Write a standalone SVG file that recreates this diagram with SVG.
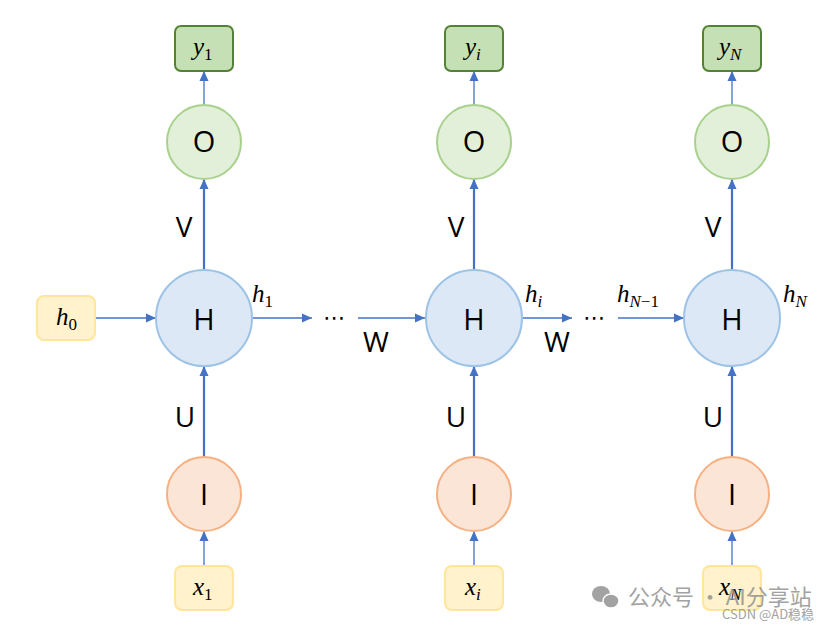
<svg xmlns="http://www.w3.org/2000/svg" width="832" height="630" viewBox="0 0 832 630">
<style>
.h{fill:#dce8f5;stroke:#9dc3e6;stroke-width:2}
.o{fill:#e2f0d9;stroke:#a9d18e;stroke-width:2}
.i{fill:#fbe5d6;stroke:#f4b183;stroke-width:2}
.yb{fill:#c5e0b4;stroke:#548235;stroke-width:2}
.xb{fill:#fff2cc;stroke:#ffe699;stroke-width:2}
.lbl{font-family:"Open Sans","Liberation Sans",Arial,sans-serif;font-size:29px;fill:#000;text-anchor:middle}
.wl{font-family:"Open Sans","Liberation Sans",Arial,sans-serif;font-size:28px;fill:#000;text-anchor:middle}
.m{font-family:"Liberation Serif","DejaVu Serif",serif;font-style:italic;font-size:25px;fill:#000}
.sub{font-size:17px}
.up{font-style:normal}
.thin{stroke:#4472c4;stroke-width:1.3;fill:none;marker-end:url(#a)}
.thick{stroke:#4472c4;stroke-width:2.2;fill:none;marker-end:url(#a)}
.dots{font-family:"DejaVu Sans",sans-serif;font-size:22px;fill:#000;text-anchor:middle}
.wm{font-family:"Noto Sans CJK SC","Liberation Sans",sans-serif;fill:#8c8c8c;opacity:0.8}
</style>
<defs>
<marker id="a" markerUnits="userSpaceOnUse" markerWidth="11" markerHeight="10" refX="10" refY="5" orient="auto">
<path d="M0,0.5 L10,5 L0,9.5 Z" fill="#4472c4"/>
</marker>
</defs>

<g id="connectors">
<line class="thin" x1="95" y1="318" x2="156" y2="318"/>
<line class="thin" x1="252" y1="318" x2="312" y2="318"/>
<line class="thin" x1="358" y1="318" x2="425" y2="318"/>
<line class="thin" x1="521" y1="318" x2="572" y2="318"/>
<line class="thin" x1="618" y1="318" x2="684" y2="318"/>

<line class="thin" x1="204" y1="566" x2="204" y2="531"/>
<line class="thick" x1="204" y1="457" x2="204" y2="366"/>
<line class="thick" x1="204" y1="270" x2="204" y2="179"/>
<line class="thin" x1="204" y1="105" x2="204" y2="71"/>

<line class="thin" x1="474" y1="566" x2="474" y2="531"/>
<line class="thick" x1="474" y1="457" x2="474" y2="366"/>
<line class="thick" x1="474" y1="270" x2="474" y2="179"/>
<line class="thin" x1="474" y1="105" x2="474" y2="71"/>

<line class="thin" x1="732" y1="566" x2="732" y2="531"/>
<line class="thick" x1="732" y1="457" x2="732" y2="366"/>
<line class="thick" x1="732" y1="270" x2="732" y2="179"/>
<line class="thin" x1="732" y1="105" x2="732" y2="71"/>

<text class="wl" x="184" y="237">V</text>
<text class="wl" x="185" y="427">U</text>
<text class="wl" x="456" y="237">V</text>
<text class="wl" x="456" y="427">U</text>
<text class="wl" x="713" y="237">V</text>
<text class="wl" x="713" y="427">U</text>
<text class="wl" x="376" y="352">W</text>
<text class="wl" x="557" y="352">W</text>
<text class="dots" x="334" y="325">⋯</text>
<text class="dots" x="594" y="325">⋯</text>
<text class="m" x="252" y="302">h<tspan class="sub up" dy="5">1</tspan></text>
<text class="m" x="525" y="302">h<tspan class="sub" dy="5">i</tspan></text>
<text class="m" x="617" y="302">h<tspan class="sub" dy="5">N</tspan><tspan class="sub up">−1</tspan></text>
<text class="m" x="783" y="302">h<tspan class="sub" dy="5">N</tspan></text>
</g>

<g id="h0"><rect class="xb" x="37" y="296" width="58" height="44" rx="7"/><text class="m" x="56" y="325">h<tspan class="sub up" dy="5">0</tspan></text></g>

<g id="H1"><circle class="h" cx="204" cy="318" r="48"/><text class="lbl" x="204" y="330">H</text></g>
<g id="O1"><circle class="o" cx="204" cy="142" r="37"/><text class="lbl" x="204" y="152">O</text></g>
<g id="I1"><circle class="i" cx="204" cy="494" r="37"/><text class="lbl" x="204" y="505">I</text></g>
<g id="y1"><rect class="yb" x="175" y="26" width="58" height="45" rx="6"/><text class="m" x="193" y="55">y<tspan class="sub up" dy="5">1</tspan></text></g>
<g id="x1"><rect class="xb" x="175" y="566" width="58" height="44" rx="7"/><text class="m" x="193" y="595">x<tspan class="sub up" dy="5">1</tspan></text></g>

<g id="H2"><circle class="h" cx="474" cy="318" r="48"/><text class="lbl" x="474" y="330">H</text></g>
<g id="O2"><circle class="o" cx="474" cy="142" r="37"/><text class="lbl" x="474" y="152">O</text></g>
<g id="I2"><circle class="i" cx="474" cy="494" r="37"/><text class="lbl" x="474" y="505">I</text></g>
<g id="yi"><rect class="yb" x="445" y="26" width="58" height="45" rx="6"/><text class="m" x="465" y="55">y<tspan class="sub" dy="5">i</tspan></text></g>
<g id="xi"><rect class="xb" x="445" y="566" width="58" height="44" rx="7"/><text class="m" x="465" y="595">x<tspan class="sub" dy="5">i</tspan></text></g>

<g id="H3"><circle class="h" cx="732" cy="318" r="48"/><text class="lbl" x="732" y="330">H</text></g>
<g id="O3"><circle class="o" cx="732" cy="142" r="37"/><text class="lbl" x="732" y="152">O</text></g>
<g id="I3"><circle class="i" cx="732" cy="494" r="37"/><text class="lbl" x="732" y="505">I</text></g>
<g id="yN"><rect class="yb" x="703" y="26" width="58" height="45" rx="6"/><text class="m" x="719" y="55">y<tspan class="sub" dy="5">N</tspan></text></g>
<g id="xN"><rect class="xb" x="703" y="566" width="58" height="44" rx="7"/><text class="m" x="719" y="595">x<tspan class="sub" dy="5">N</tspan></text></g>

<g id="watermark">
<g fill="#8c8c8c" opacity="0.8">
<ellipse cx="601" cy="594" rx="9" ry="8"/>
<ellipse cx="611" cy="601" rx="8" ry="7" stroke="#fff" stroke-width="1.5"/>
</g>
<text class="wm" x="628" y="605" font-size="22">公众号 · AI分享站</text>
<text class="wm" x="722" y="619" font-size="13">CSDN @AD稳稳</text>
</g>
</svg>
